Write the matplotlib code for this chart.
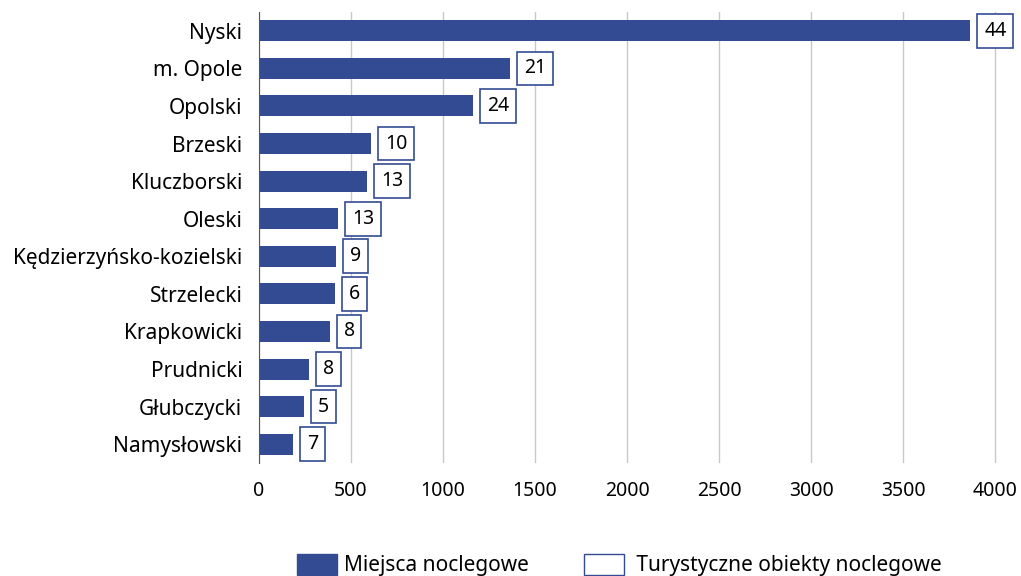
import matplotlib.pyplot as plt
from matplotlib.patches import Patch

plt.rcParams['font.family'] = ['Noto Sans', 'DejaVu Sans']

powiaty = ['Nyski', 'm. Opole', 'Opolski', 'Brzeski', 'Kluczborski', 'Oleski',
           'Kędzierzyńsko-kozielski', 'Strzelecki', 'Krapkowicki', 'Prudnicki',
           'Głubczycki', 'Namysłowski']
miejsca = [3865, 1365, 1163, 609, 587, 429, 418, 415, 384, 270, 246, 185]
obiekty = [44, 21, 24, 10, 13, 13, 9, 6, 8, 8, 5, 7]
xticks = [0, 500, 1000, 1500, 2000, 2500, 3000, 3500, 4000]

blue = '#334b93'

fig = plt.figure(figsize=(10.21, 5.76), dpi=100)
ax = fig.add_axes([259 / 1021, 1 - 463 / 576, 738 / 1021, 451 / 576])

y = list(range(len(powiaty)))
ax.barh(y, miejsca, height=0.56, color=blue, zorder=3)
ax.set_ylim(len(powiaty) - 0.5, -0.5)
ax.set_xlim(0, 4010)
ax.set_yticks(y)
ax.set_yticklabels(powiaty, fontsize=15)
ax.set_xticks(xticks)
ax.set_xticklabels([str(t) for t in xticks], fontsize=14)
ax.tick_params(length=0)
ax.tick_params(axis='y', pad=12)
ax.tick_params(axis='x', pad=13)
ax.grid(axis='x', color='#c8c8c8', linewidth=1, zorder=0)
for s in ['top', 'right', 'bottom']:
    ax.spines[s].set_visible(False)
ax.spines['left'].set_color('#555555')
ax.spines['left'].set_zorder(4)

for yi, m, o in zip(y, miejsca, obiekty):
    ax.annotate(str(o), xy=(m, yi), xytext=(10, 0), textcoords='offset points',
                ha='left', va='center', fontsize=14, zorder=5,
                bbox=dict(boxstyle='square,pad=0.35', fc='white', ec=blue, lw=1.2))

handles = [Patch(facecolor=blue, edgecolor=blue, label='Miejsca noclegowe'),
           Patch(facecolor='white', edgecolor=blue, label=' Turystyczne obiekty noclegowe')]
fig.legend(handles=handles, loc='center', bbox_to_anchor=(619 / 1021, 1 - 565 / 576),
           ncol=2, frameon=False, fontsize=15, handlelength=1.95, handleheight=1.2,
           columnspacing=2.65, handletextpad=0.3)

fig.savefig('out.png', dpi=100)
